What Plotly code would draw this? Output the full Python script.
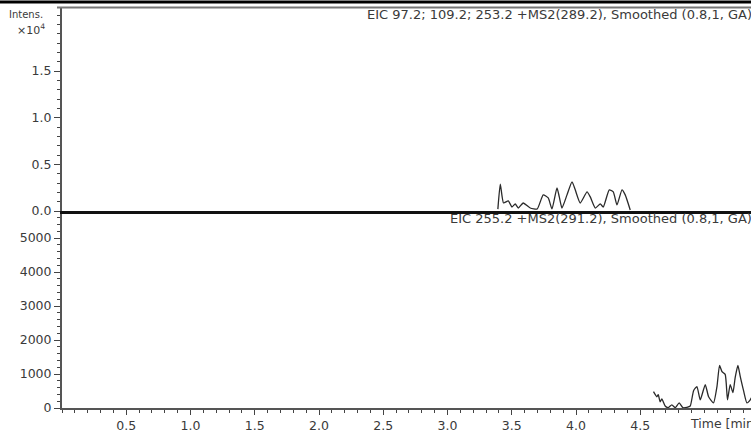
import plotly.graph_objects as go

# Upper trace: EIC 97.2; 109.2; 253.2 +MS2(289.2)
t_upper = [3.392, 3.411, 3.436, 3.473, 3.502, 3.527, 3.551, 3.589, 3.644, 3.698,
           3.745, 3.784, 3.813, 3.852, 3.870, 3.891, 3.930, 3.969, 3.994, 4.033,
           4.086, 4.111, 4.150, 4.189, 4.212, 4.259, 4.290, 4.319, 4.358, 4.383, 4.422]
i_upper = [200, 2870, 860, 1080, 430, 760, 320, 860, 320, 220,
           1730, 1400, 220, 2480, 1510, 320, 1730, 3130, 2270, 860,
           2050, 1510, 320, 760, 430, 2270, 2050, 650, 2270, 1730, 110]

# Lower trace: EIC 255.2 +MS2(291.2)
t_lower = [4.603, 4.629, 4.640, 4.655, 4.668, 4.694, 4.717, 4.746, 4.772, 4.803,
           4.832, 4.863, 4.889, 4.915, 4.941, 4.967, 5.006, 5.032, 5.070, 5.097,
           5.117, 5.136, 5.161, 5.179, 5.200, 5.221, 5.239, 5.260, 5.278, 5.304,
           5.330, 5.356, 5.380]
i_lower = [480, 330, 390, 180, 270, 60, 10, 90, 10, 150,
           10, 20, 60, 510, 630, 240, 690, 330, 150, 630,
           1250, 1070, 990, 240, 690, 450, 900, 1250, 930, 510,
           150, 240, 400]

x_tickvals = [0.5, 1.0, 1.5, 2.0, 2.5, 3.0, 3.5, 4.0, 4.5]
x_ticktext = ["0.5", "1.0", "1.5", "2.0", "2.5", "3.0", "3.5", "4.0", "4.5"]
yu_tickvals = [0, 5000, 10000, 15000]
yu_ticktext = ["0.0", "0.5", "1.0", "1.5"]
yl_tickvals = [0, 1000, 2000, 3000, 4000, 5000]
yl_ticktext = ["0", "1000", "2000", "3000", "4000", "5000"]

title_upper = "EIC 97.2; 109.2; 253.2 +MS2(289.2), Smoothed (0.8,1, GA)"
title_lower = "EIC 255.2 +MS2(291.2), Smoothed (0.8,1, GA)"

W, H = 751, 441
L, R, T, B = 62, 0, 7, 33
pw, ph = W - L - R, H - T - B
split = (408 - 211) / ph

def px_x(px):
    return (px - L) / pw

def px_y(py):
    return (H - B - py) / ph

FONT = "DejaVu Sans, sans-serif"
TXT = "#3a3a3a"
LINE = dict(color="#2a2a2a", width=1.3, shape="spline", smoothing=0.5)

fig = go.Figure()
fig.add_trace(go.Scatter(x=t_upper, y=i_upper, mode="lines", xaxis="x2", yaxis="y2",
                         line=LINE, showlegend=False, hoverinfo="skip"))
fig.add_trace(go.Scatter(x=t_lower, y=i_lower, mode="lines", xaxis="x", yaxis="y",
                         line=LINE, showlegend=False, hoverinfo="skip"))

xr = [0, pw / 128.5]
tickfont = dict(family=FONT, size=12.5, color=TXT)
fig.update_layout(
    width=W, height=H,
    margin=dict(l=L, r=R, t=T, b=B, pad=0, autoexpand=False),
    paper_bgcolor="white", plot_bgcolor="white",
    font=dict(family=FONT, size=11, color=TXT),
    xaxis=dict(domain=[0, 1], anchor="y", range=xr, tickvals=x_tickvals, ticktext=x_ticktext,
               automargin=False,
               showgrid=False, zeroline=False, showline=True, linecolor="#555555", linewidth=2,
               ticks="outside", ticklen=5, tickwidth=1.2, tickcolor="#444444",
               minor=dict(dtick=0.1, tick0=0, ticks="outside", ticklen=3, tickwidth=1.2,
                          tickcolor="#444444"),
               tickfont=tickfont),
    xaxis2=dict(domain=[0, 1], anchor="y2", range=xr, matches="x", showticklabels=False,
                automargin=False,
                showgrid=False, zeroline=False, showline=True, linecolor="#111111", linewidth=2.5,
                ticks=""),
    yaxis=dict(domain=[0, split], anchor="x", range=[0, 197 / 34 * 1000],
               tickvals=yl_tickvals, ticktext=yl_ticktext, automargin=False,
               showgrid=False, zeroline=False, showline=True, linecolor="#555555", linewidth=2,
               ticks="outside", ticklen=6, tickwidth=1.2, tickcolor="#444444",
               minor=dict(dtick=200, tick0=0, ticks="outside", ticklen=3, tickwidth=1.2,
                          tickcolor="#444444"),
               tickfont=tickfont),
    yaxis2=dict(domain=[split, 1], anchor="x2", range=[0, 204 / 93.3 * 10000],
                tickvals=yu_tickvals, ticktext=yu_ticktext, automargin=False,
                showgrid=False, zeroline=False, showline=True, linecolor="#555555", linewidth=2,
                ticks="outside", ticklen=6, tickwidth=1.2, tickcolor="#444444",
                minor=dict(dtick=1000, tick0=0, ticks="outside", ticklen=3, tickwidth=1.2,
                           tickcolor="#444444"),
                tickfont=tickfont),
)

# top border lines
fig.add_shape(type="line", xref="paper", yref="paper", x0=px_x(0), x1=px_x(W),
              y0=px_y(2), y1=px_y(2), line=dict(color="black", width=3))
fig.add_shape(type="line", xref="paper", yref="paper", x0=px_x(57), x1=px_x(W),
              y0=px_y(7.5), y1=px_y(7.5), line=dict(color="#777777", width=2))

ann = [
    dict(text="Intens.", x=px_x(7), y=px_y(15), xanchor="left", yanchor="middle", size=10),
    dict(text="×10<sup>4</sup>", x=px_x(47), y=px_y(30), xanchor="right", yanchor="middle", size=11),
    dict(text=title_upper, x=px_x(W + 3), y=px_y(14), xanchor="right", yanchor="middle", size=13),
    dict(text=title_lower, x=px_x(W + 3), y=px_y(218), xanchor="right", yanchor="middle", size=13),
    dict(text="Time [min]", x=px_x(688), y=px_y(423), xanchor="left", yanchor="middle", size=12.5),
]
for a in ann:
    fig.add_annotation(text=a["text"], x=a["x"], y=a["y"], xref="paper", yref="paper",
                       xanchor=a["xanchor"], yanchor=a["yanchor"], showarrow=False,
                       font=dict(family=FONT, size=a["size"], color=TXT))

fig.write_html("out.html", config={"displayModeBar": False},
               post_script="document.body.style.margin='0';document.body.style.overflow='hidden';")
